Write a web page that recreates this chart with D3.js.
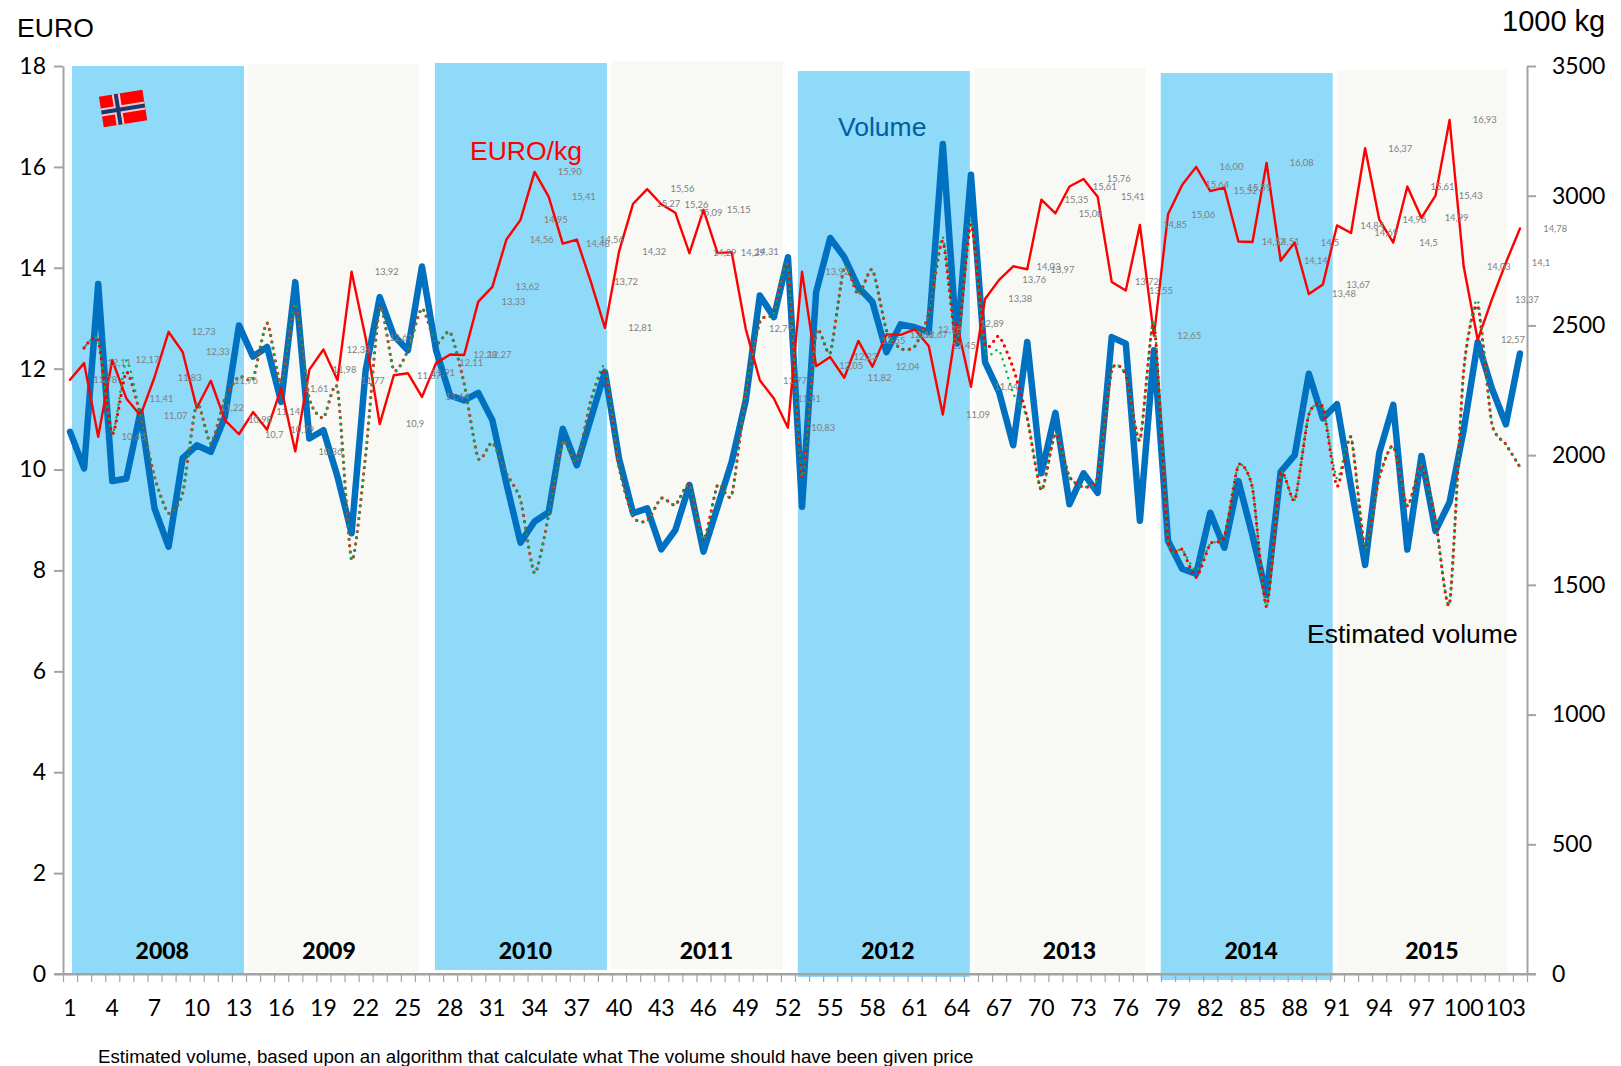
<!DOCTYPE html>
<html>
<head>
<meta charset="utf-8">
<title>Norway EURO/kg and volume</title>
<script src="https://cdn.jsdelivr.net/npm/d3@7"></script>
<style>
    html, body { margin: 0; padding: 0; background: #fff; }
    svg { display: block; }
    .axis text { font-family: Lato, sans-serif; font-size: 23px; fill: #000; }
    .axis path, .axis line { stroke: #a3a3a3; stroke-width: 2px; }
    .marks line { stroke-width: 1.2px; }
    .note { font-family: "Liberation Sans", Arial, sans-serif; font-size: 26.5px; }
    .year { font-family: Lato, sans-serif; font-size: 23px; font-weight: 900; text-anchor: middle; }
    .price-label { font-family: Lato, sans-serif; font-size: 9.4px; fill: #7f7f7f; text-anchor: middle; }
</style>
</head>
<body>
<svg id="chart" width="1621" height="1066"></svg>
<script>
// values
var categories = d3.range(1, 105);
var xTickLabels = categories.filter(function(d) { return d % 3 === 1; });
var euroTicks = [0, 2, 4, 6, 8, 10, 12, 14, 16, 18];
var volumeTicks = [0, 500, 1000, 1500, 2000, 2500, 3000, 3500];

var years = ["2008", "2009", "2010", "2011", "2012", "2013", "2014", "2015"];
// year panels, in categories along x and EURO along y
var yearFrom = [0.64, 13.09, 26.42, 38.92, 52.2, 64.77, 77.98, 90.48];
var yearTo = [12.86, 25.28, 38.64, 51.14, 64.42, 76.9, 90.2, 102.6];
var yearTop = [18, 18.04, 18.06, 18.1, 17.9, 17.96, 17.86, 17.92];
var yearBottom = [0, 0.04, 0.08, 0.1, -0.06, 0.02, -0.12, 0.02];
var yearCentre = [7.05, 18.9, 32.85, 45.7, 58.6, 71.5, 84.4, 97.25];

// data labels as printed, the line is drawn from the same numbers
var priceText = [
    "11,78", "12,11", "10,65", "12,17", "11,41", "11,07", "11,83", "12,73", "12,33", "11,22",
    "11,76", "10,98", "10,7", "11,14", "10,79", "11,61", "10,36", "11,98", "12,38", "11,77",
    "13,92", "12,61", "10,9", "11,87", "11,91", "11,44", "12,11", "12,28", "12,27", "13,33",
    "13,62", "14,56", "14,95", "15,90", "15,41", "14,48", "14,56", "13,72", "12,81", "14,32",
    "15,27", "15,56", "15,26", "15,09", "14,29", "15,15", "14,29", "14,31", "12,79", "11,77",
    "11,41", "10,83", "13,92", "12,05", "12,23", "11,82", "12,55", "12,04", "12,68", "12,67",
    "12,78", "12,45", "11,09", "12,89", "11,64", "13,38", "13,76", "14,03", "13,97", "15,35",
    "15,08", "15,61", "15,76", "15,41", "13,72", "13,55", "14,85", "12,65", "15,06", "15,64",
    "16,00", "15,52", "15,59", "14,52", "14,51", "16,08", "14,14", "14,5", "13,48", "13,67",
    "14,84", "14,69", "16,37", "14,96", "14,5", "15,61", "14,99", "15,43", "16,93", "14,03",
    "12,57", "13,37", "14,1", "14,78"
];
var prices = priceText.map(function(d) { return +d.replace(",", "."); });

var volume = [
    2090, 1949, 2660, 1900, 1910, 2167, 1795, 1647, 1988, 2038,
    2013, 2147, 2500, 2380, 2417, 2205, 2667, 2064, 2096, 1917,
    1699, 2327, 2609, 2461, 2404, 2727, 2404, 2230, 2211, 2240,
    2135, 1890, 1663, 1744, 1780, 2102, 1961, 2141, 2321, 1987,
    1776, 1795, 1637, 1711, 1885, 1628, 1801, 1974, 2211, 2615,
    2532, 2763, 1801, 2628, 2837, 2763, 2647, 2590, 2397, 2504,
    2493, 2474, 3199, 2430, 3081, 2359, 2243, 2038, 2436, 1930,
    2163, 1811, 1930, 1855, 2455, 2430, 1747, 2404, 1670, 1562,
    1542, 1778, 1643, 1900, 1690, 1461, 1936, 2000, 2314, 2142,
    2196, 1880, 1577, 2008, 2194, 1636, 1997, 1708, 1819, 2096,
    2435, 2258, 2119, 2392
];

// both estimates start at the second category
var estimateGreen = [
    null, 2413, 2442, 2083, 2365, 2154, 1917, 1776, 1853, 2199,
    2045, 2218, 2303, 2295, 2509, 2275, 2583, 2218, 2144, 2256,
    1596, 2000, 2570, 2327, 2404, 2565, 2430, 2474, 2275, 1987,
    2048, 1930, 1827, 1545, 1769, 2052, 1974, 2211, 2340, 1955,
    1763, 1747, 1834, 1808, 1885, 1673, 1885, 1846, 2238, 2513,
    2545, 2724, 1917, 2474, 2394, 2724, 2619, 2715, 2481, 2411,
    2419, 2545, 2840, 2430, 2904, 2404, 2404, 2238, 2142, 1865,
    2083, 1917, 1878, 1917, 2327, 2308, 2058, 2519, 1677, 1636,
    1555, 1658, 1685, 1961, 1873, 1416, 1927, 1827, 2156, 2184,
    1910, 2069, 1642, 1913, 2035, 1805, 1961, 1751, 1428, 2325,
    2596, 2123, 2042, 1954
];
var estimateRed = [
    null, 2413, 2442, 2083, 2320, 2154, 1917, 1776, 1853, 2199,
    2045, 2218, 2303, 2295, 2509, 2275, 2583, 2218, 2144, 2256,
    1596, 2000, 2570, 2327, 2404, 2565, 2430, 2474, 2275, 1987,
    2048, 1930, 1827, 1545, 1769, 2052, 1974, 2211, 2325, 1955,
    1763, 1747, 1834, 1808, 1885, 1673, 1885, 1846, 2238, 2513,
    2545, 2724, 1917, 2474, 2394, 2724, 2619, 2715, 2481, 2411,
    2419, 2545, 2825, 2430, 2890, 2430, 2458, 2335, 2142, 1865,
    2083, 1917, 1878, 1917, 2327, 2308, 2058, 2505, 1677, 1636,
    1529, 1658, 1685, 1961, 1873, 1416, 1927, 1827, 2156, 2184,
    1880, 2069, 1642, 1913, 2035, 1805, 1961, 1751, 1428, 2325,
    2575, 2123, 2042, 1954
];

var margin = {top: 66, right: 94, bottom: 92, left: 63};
var width = 1621 - margin.left - margin.right;
var height = 1066 - margin.top - margin.bottom;
var labelShift = 2.5; // the data labels sit this many categories right of their points

const node = document.getElementById("chart");
let svg = d3.select(node)
    .append("g")
    .attr("transform", "translate(" + margin.left + "," + margin.top + ")");

// ======================================================
// SET SCALES
var xScale = d3.scaleBand().domain(categories).range([0, width]);
var xLinear = d3.scaleLinear().domain([0, categories.length]).range([0, width]);
var yEuro = d3.scaleLinear().domain([0, 18]).range([height, 0]);
var yVolume = d3.scaleLinear().domain([0, 3500]).range([height, 0]);
var xMid = function(i) { return xScale(categories[i]) + xScale.bandwidth() / 2; };

// year panels behind everything
svg.selectAll("rect.year-panel")
    .data(years)
    .enter()
    .append("rect")
    .attr("class", "year-panel")
    .attr("x", function(d, i) { return xLinear(yearFrom[i]); })
    .attr("width", function(d, i) { return xLinear(yearTo[i]) - xLinear(yearFrom[i]); })
    .attr("y", function(d, i) { return yEuro(yearTop[i]); })
    .attr("height", function(d, i) { return yEuro(yearBottom[i]) - yEuro(yearTop[i]); })
    .style("fill", function(d, i) { return i % 2 === 0 ? "#8fd9f9" : "#f8f9f4"; });

// the flag, a small picture in the first panel
var flag = svg.append("g")
    .attr("transform", "translate(60,42) rotate(-9)");
flag.append("rect").attr("x", -22).attr("y", -15).attr("width", 44).attr("height", 31).style("fill", "#ff0000");
flag.append("rect").attr("x", -9).attr("y", -15).attr("width", 8).attr("height", 31).style("fill", "#f3c9d0");
flag.append("rect").attr("x", -22).attr("y", -3).attr("width", 44).attr("height", 8).style("fill", "#f3c9d0");
flag.append("rect").attr("x", -7).attr("y", -15).attr("width", 4).attr("height", 31).style("fill", "#1a3a6e");
flag.append("rect").attr("x", -22).attr("y", -1).attr("width", 44).attr("height", 4).style("fill", "#1a3a6e");

// add the axes
svg.append("g")
    .attr("class", "axis")
    .call(d3.axisLeft(yEuro).tickValues(euroTicks).tickSize(9).tickSizeOuter(0).tickPadding(8));

svg.append("g")
    .attr("class", "axis")
    .attr("transform", "translate(" + width + ",0)")
    .call(d3.axisRight(yVolume).tickValues(volumeTicks).tickFormat(d3.format("d"))
        .tickSize(9).tickSizeOuter(0).tickPadding(16));

svg.append("g")
    .attr("class", "axis marks")
    .attr("transform", "translate(0," + height + ")")
    .call(d3.axisBottom(xLinear).ticks(categories.length).tickFormat("").tickSize(8).tickSizeOuter(0));

var xAxis = svg.append("g")
    .attr("class", "axis")
    .attr("transform", "translate(0," + height + ")")
    .call(d3.axisBottom(xScale).tickValues(xTickLabels).tickSize(0).tickPadding(26));
xAxis.select(".domain").remove();

// base line runs out to both outer ticks
svg.append("line")
    .attr("x1", -9).attr("x2", width + 9)
    .attr("y1", height).attr("y2", height)
    .style("stroke", "#a3a3a3").style("stroke-width", 2);

// ======================================================
// LINES
function drawLine(values, yScale, curve) {
    return svg.append("path")
        .datum(values)
        .attr("d", d3.line()
            .defined(function(d) { return d !== null; })
            .x(function(d, i) { return xMid(i); })
            .y(function(d) { return yScale(d); })
            .curve(curve))
        .style("fill", "none")
        .style("stroke-linecap", "round")
        .style("stroke-linejoin", "round");
}

drawLine(volume, yVolume, d3.curveLinear)
    .style("stroke", "#0070c0").style("stroke-width", 6.5);

drawLine(prices, yEuro, d3.curveLinear)
    .style("stroke", "#ff0000").style("stroke-width", 2.4);

// red goes under the green so both stay visible where the dots coincide
drawLine(estimateRed, yVolume, d3.curveCardinal.tension(0.35))
    .style("stroke", "#ff0000").style("stroke-width", 3.3)
    .style("stroke-dasharray", "0 6.4");

drawLine(estimateGreen, yVolume, d3.curveCardinal.tension(0.35))
    .style("stroke", "#00b050").style("stroke-width", 2.5)
    .style("stroke-dasharray", "0 6.4").style("stroke-dashoffset", 3.2);

// data labels of the price line
svg.selectAll("text.price-label")
    .data(priceText)
    .enter()
    .append("text")
    .attr("class", "price-label")
    .attr("x", function(d, i) { return xMid(i) + labelShift * xScale.bandwidth(); })
    .attr("y", function(d, i) { return yEuro(prices[i]); })
    .attr("dy", "0.35em")
    .text(function(d) { return d; });

// year names
svg.selectAll("text.year")
    .data(years)
    .enter()
    .append("text")
    .attr("class", "year")
    .attr("x", function(d, i) { return xLinear(yearCentre[i]); })
    .attr("y", height - 15)
    .text(function(d) { return d; });

// free notes on the page
var page = d3.select(node);
function note(x, y, text, color, size) {
    page.append("text")
        .attr("class", "note")
        .attr("x", x).attr("y", y)
        .style("fill", color)
        .style("font-size", size + "px")
        .text(text);
}
note(17, 37, "EURO", "#000", 26.6);
note(1502, 31, "1000 kg", "#000", 29);
note(470, 160, "EURO/kg", "#ff0000", 26.5);
note(838, 136, "Volume", "#005f9e", 26.5);
note(1307, 643, "Estimated volume", "#000", 26.5);
note(98, 1063, "Estimated volume, based upon an algorithm that calculate what The volume should have been given price", "#000", 18.7);
</script>
</body>
</html>
